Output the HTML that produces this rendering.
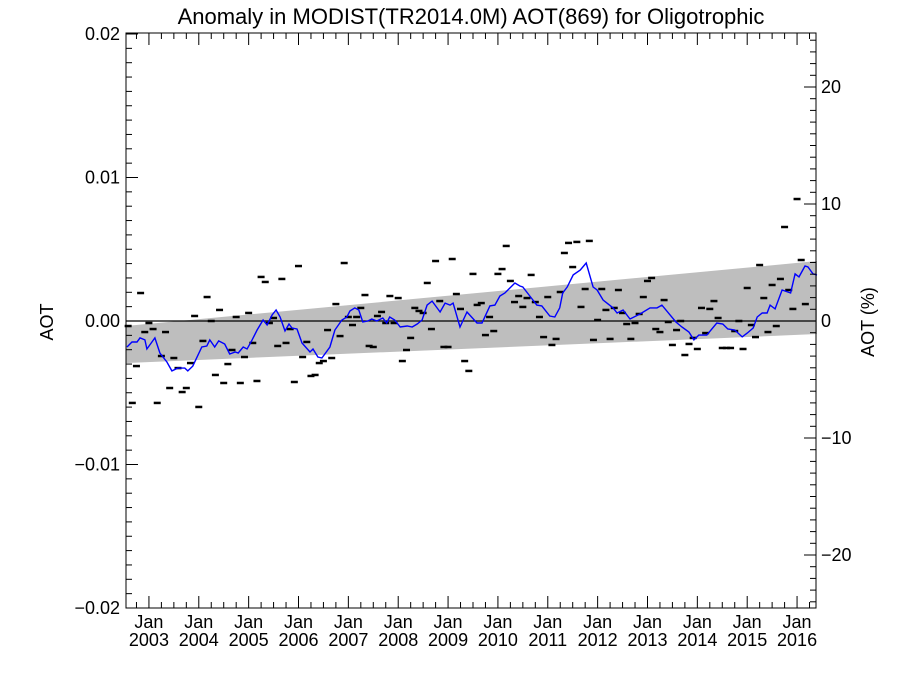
<!DOCTYPE html>
<html><head><meta charset="utf-8"><style>
html,body{margin:0;padding:0;background:#fff;}
svg text{font-family:"Liberation Sans",sans-serif;fill:#000;}
</style></head><body>
<svg id="chart" width="900" height="675" viewBox="0 0 900 675" xmlns="http://www.w3.org/2000/svg">
<text x="471" y="24" font-size="22" text-anchor="middle">Anomaly in MODIST(TR2014.0M) AOT(869) for Oligotrophic</text>
<text transform="translate(53,322) rotate(-90)" font-size="18" text-anchor="middle">AOT</text>
<text transform="translate(874,322) rotate(-90)" font-size="18" text-anchor="middle">AOT (%)</text>
<g id="plot"></g>
</svg>
<script>
// ---- data ----
const bandDates = [2002.54, 2016.40];
const bandUpper = [-0.00035, 0.00418];
const bandLower = [-0.00293, -0.00091];
const lineDates = [2002.56,2002.66,2002.76,2002.82,2002.92,2002.96,2003.12,2003.22,2003.36,2003.46,2003.58,2003.72,2003.78,2003.88,2004.06,2004.16,2004.22,2004.32,2004.40,2004.52,2004.62,2004.73,2004.79,2004.89,2004.97,2005.07,2005.17,2005.29,2005.37,2005.47,2005.55,2005.63,2005.73,2005.81,2005.87,2005.97,2006.07,2006.23,2006.29,2006.39,2006.47,2006.63,2006.73,2006.87,2006.97,2007.03,2007.13,2007.21,2007.29,2007.39,2007.47,2007.57,2007.69,2007.77,2007.83,2007.93,2008.04,2008.18,2008.28,2008.38,2008.48,2008.58,2008.68,2008.84,2008.94,2009.04,2009.10,2009.24,2009.38,2009.58,2009.68,2009.84,2009.94,2010.04,2010.14,2010.34,2010.44,2010.50,2010.64,2010.78,2010.88,2011.04,2011.14,2011.24,2011.30,2011.39,2011.51,2011.65,2011.77,2011.91,2011.99,2012.11,2012.31,2012.39,2012.51,2012.65,2012.85,2013.05,2013.19,2013.29,2013.57,2013.69,2013.83,2013.93,2014.03,2014.19,2014.39,2014.51,2014.61,2014.75,2014.90,2015.00,2015.12,2015.20,2015.30,2015.40,2015.46,2015.56,2015.70,2015.87,2015.96,2016.04,2016.16,2016.22,2016.32,2016.40];
const lineValues = [-1.81,-1.46,-1.46,-1.18,-1.32,-1.95,-1.18,-2.23,-2.86,-3.48,-3.28,-3.28,-3.48,-3.14,-1.81,-1.74,-1.32,-1.81,-1.39,-1.60,-2.30,-2.16,-2.23,-1.81,-1.95,-1.32,-0.63,0.07,-0.28,0.42,0.77,0.28,-0.70,-0.21,-0.49,-0.56,-1.53,-2.16,-1.95,-2.51,-2.58,-1.81,-0.63,0.07,0.28,0.70,0.91,0.77,-0.07,0,0.14,0,0.21,-0.14,0.28,0.07,-0.42,-0.35,-0.42,-0.21,0.07,1.11,1.39,0.63,1.25,1.11,1.25,-0.42,0.63,-0.14,-0.14,1.05,1.11,1.74,1.95,2.65,2.44,2.37,1.74,1.11,1.05,0.35,0.28,0.91,1.95,2.37,3.21,3.55,4.04,2.37,2.16,1.46,0.91,0.56,0.77,0.14,0.49,0.91,0.91,1.11,-0.07,-0.42,-0.77,-1.32,-0.98,-0.98,-0.14,-0.21,-0.56,-0.63,-1.11,-0.84,-0.49,0.28,0.56,0.56,1.11,0.84,2.16,1.95,3.28,3.07,3.83,3.76,3.28,3.21];
const dashStart = 2002.583;
const dashValues = [-0.35,-5.71,-3.14,1.95,-0.77,-0.14,-0.56,-5.71,-2.44,-0.77,-4.67,-2.58,-3.28,-4.95,-4.67,-2.93,0.35,-5.99,-1.39,1.67,0,-3.76,0.77,-4.32,-3.00,-2.02,0.28,-4.32,-2.51,0.56,-1.53,-4.18,3.07,2.72,-0.14,0.21,-1.74,2.93,-1.53,-0.56,-4.25,3.83,-2.51,-1.46,-3.83,-3.76,-2.93,-2.79,-0.63,-2.58,1.18,-1.05,4.04,0.28,-0.28,0.28,0.91,1.81,-1.74,-1.81,0.35,0.63,-0.14,1.74,-0.14,1.60,-2.79,-2.02,-1.18,0.91,0.70,0.56,2.65,-0.56,4.18,1.39,-1.81,-1.81,4.32,1.88,0.84,-2.79,-3.48,3.28,1.12,1.25,-0.98,0.28,-0.70,3.28,3.62,5.23,2.79,1.32,1.74,0.98,1.60,3.21,1.32,0.28,-1.12,1.67,-1.67,-1.25,2.02,4.74,5.44,3.76,5.51,0.98,2.23,5.58,-1.32,0.07,2.23,0.77,-1.25,0.91,2.16,0.56,-0.21,-1.25,-0.14,0.49,1.67,2.79,3.00,-0.56,-0.77,1.46,-0.07,-1.67,-0.63,0,-2.37,-1.60,-1.18,-1.95,0.91,-0.84,0.84,1.39,0.21,-1.88,-1.88,-1.88,-0.70,0,-1.95,2.30,-0.28,-1.12,3.90,1.60,-0.77,2.51,-0.35,2.93,6.55,2.16,0.84,8.50,4.25,1.18];
const leftTickValues = [-0.02,-0.01,0,0.01,0.02];
const leftTickLabels = ["\u22120.02","\u22120.01","0.00","0.01","0.02"];
const rightTickValues = [-20,-10,0,10,20];
const rightTickLabels = ["\u221220","\u221210","0","10","20"];
const yearTicks = [2003,2004,2005,2006,2007,2008,2009,2010,2011,2012,2013,2014,2015,2016];

// ---- layout ----
const L=126,R=816,T=33,B=608;
const x0Year=2002.54, x1Year=2016.38;
const Y0=321, pxPerAot=14350, pxPerPct=11.7;
function X(t){return L+(t-x0Year)/(x1Year-x0Year)*(R-L);}
function Y(v){return Y0-v*pxPerAot;}
function Yp(p){return Y0-p*pxPerPct;}
const NS="http://www.w3.org/2000/svg";
const g=document.getElementById('plot');
function mk(tag,attrs){const e=document.createElementNS(NS,tag);for(const k in attrs)e.setAttribute(k,attrs[k]);g.appendChild(e);return e;}

const band=mk('polygon',{points:`${X(bandDates[0])},${Y(bandUpper[0])} ${X(bandDates[1])},${Y(bandUpper[1])} ${X(bandDates[1])},${Y(bandLower[1])} ${X(bandDates[0])},${Y(bandLower[0])}`,fill:'#bebebe'});



const z=mk('line',{x1:L,x2:R,y1:Y(0),y2:Y(0),stroke:'#000','stroke-width':1.3});



dashValues.forEach((v,i)=>{
  const t=dashStart+i/12;
  const cx=X(t);
  if(cx<L||cx>R) return;
  const d=mk('line',{x1:cx-3.5,x2:cx+3.5,y1:Y(v/1000),y2:Y(v/1000),stroke:'#000','stroke-width':2.5});
  
  
});

const pts=lineDates.map((t,i)=>`${X(t).toFixed(1)},${Y(lineValues[i]/1000).toFixed(1)}`).join(' ');
const pl=mk('polyline',{points:pts,fill:'none',stroke:'#0000ff','stroke-width':1.4});



const fr=mk('rect',{x:L,y:T,width:R-L,height:B-T,fill:'none',stroke:'#000','stroke-width':1});



for(let k=-20;k<=20;k++){
  const v=k/1000, y=Y(v), len=(k%10===0)?12:6;
  if(y<T-1||y>B+1) continue;
  mk('line',{x1:L,x2:L+len,y1:y,y2:y,stroke:'#000','stroke-width':1});
}
leftTickValues.forEach((v,i)=>{
  const t=mk('text',{x:L-6,y:Y(v)+6,'font-size':18,'text-anchor':'end'});
  t.textContent=leftTickLabels[i];
  
  
});
for(let p=-25;p<=25;p++){
  const y=Yp(p); if(y<T||y>B) continue;
  const len=(p%10===0)?12:6;
  mk('line',{x1:R-len,x2:R,y1:y,y2:y,stroke:'#000','stroke-width':1});
}
rightTickValues.forEach((p,i)=>{
  const t=mk('text',{x:R+5,y:Yp(p)+6,'font-size':18,'text-anchor':'start'});
  t.textContent=rightTickLabels[i];
  
  
});
for(let q=2002.5;q<=2016.5;q+=0.25){
  const x=X(q); if(x<L||x>R) continue;
  const major=Math.abs(q-Math.round(q))<1e-6;
  const len=major?12:6;
  mk('line',{x1:x,x2:x,y1:B,y2:B-len,stroke:'#000','stroke-width':1});
  mk('line',{x1:x,x2:x,y1:T,y2:T+len,stroke:'#000','stroke-width':1});
}
yearTicks.forEach(yr=>{
  const x=X(yr);
  const a=mk('text',{x:x,y:B+20,'font-size':18,'text-anchor':'middle'});
  a.textContent='Jan';
  
  
  const b=mk('text',{x:x,y:B+38,'font-size':18,'text-anchor':'middle'});
  b.textContent=String(yr);
  
  
});
</script>
</body></html>
